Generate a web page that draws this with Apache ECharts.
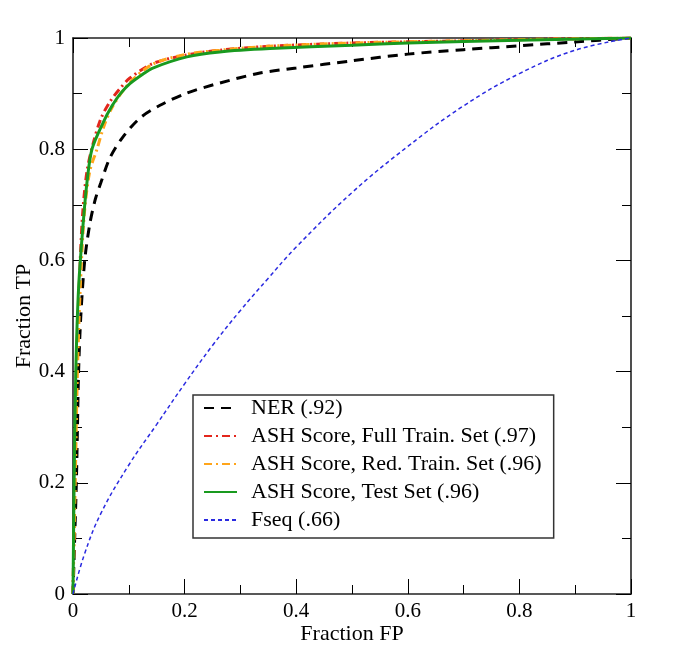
<!DOCTYPE html>
<html>
<head>
<meta charset="utf-8">
<script src="https://cdn.jsdelivr.net/npm/echarts@6/dist/echarts.min.js"></script>
<style>
html,body{margin:0;padding:0;background:#fff;}
#chart{width:685px;height:647px;}
</style>
</head>
<body>
<div id="chart"></div>
<script>
// Tick labels / axis settings
const axisTicks = [0, 0.2, 0.4, 0.6, 0.8, 1];
const seriesNames = [
  'NER (.92)',
  'ASH Score, Full Train. Set (.97)',
  'ASH Score, Red. Train. Set (.96)',
  'ASH Score, Test Set (.96)',
  'Fseq (.66)'
];

// NER
const nerFP = [0, 0.003, 0.006, 0.008, 0.010, 0.014, 0.021, 0.03, 0.04, 0.05, 0.066, 0.088, 0.12, 0.156, 0.204, 0.263, 0.335, 0.4, 0.5, 0.6, 0.7, 0.8, 0.9, 1];
const nerTP = [0, 0.1, 0.2, 0.3, 0.4, 0.5, 0.6, 0.665, 0.71, 0.74, 0.784, 0.82, 0.856, 0.879, 0.901, 0.919, 0.937, 0.946, 0.959, 0.971, 0.979, 0.986, 0.993, 1];

// ASH full train
const fullFP = [0, 0.003, 0.006, 0.011, 0.017, 0.025, 0.036, 0.05, 0.066, 0.085, 0.102, 0.143, 0.2, 0.263, 0.35, 0.5, 0.7, 0.85, 1];
const fullTP = [0, 0.2, 0.4, 0.55, 0.68, 0.76, 0.81, 0.855, 0.885, 0.91, 0.928, 0.954, 0.969, 0.978, 0.985, 0.991, 0.995, 0.998, 1];

// ASH reduced train
const redFP = [0, 0.004, 0.008, 0.013, 0.02, 0.03, 0.043, 0.055, 0.07, 0.1, 0.143, 0.2, 0.263, 0.35, 0.5, 0.7, 0.85, 1];
const redTP = [0, 0.2, 0.4, 0.55, 0.68, 0.76, 0.8, 0.84, 0.875, 0.918, 0.953, 0.97, 0.978, 0.985, 0.991, 0.995, 0.998, 1];

// ASH test set
const testFP = [0, 0.002, 0.005, 0.01, 0.018, 0.025, 0.034, 0.054, 0.07, 0.085, 0.102, 0.125, 0.143, 0.204, 0.263, 0.353, 0.5, 0.6, 0.8, 1];
const testTP = [0, 0.2, 0.4, 0.55, 0.664, 0.74, 0.8, 0.848, 0.878, 0.9, 0.918, 0.935, 0.946, 0.966, 0.975, 0.981, 0.987, 0.991, 0.996, 1];

// Fseq
const fseqFP = [0, 0.02, 0.05, 0.1, 0.15, 0.2, 0.25, 0.3, 0.35, 0.4, 0.5, 0.6, 0.7, 0.8, 0.9, 1];
const fseqTP = [0, 0.07, 0.145, 0.232, 0.305, 0.378, 0.447, 0.51, 0.568, 0.624, 0.722, 0.805, 0.878, 0.936, 0.978, 1];

function zip(a, b) { return a.map((v, i) => [v, b[i]]); }

const FONT = '"Liberation Serif", "DejaVu Serif", serif';
const chart = echarts.init(document.getElementById('chart'), null, {renderer: 'canvas'});

function fmt(v) { return String(axisTicks.find(t => Math.abs(t - v) < 1e-9) ?? v); }

function mkX(pos, showLabel) {
  return {
    type: 'value', min: 0, max: 1, interval: 0.2, position: pos,
    name: showLabel ? 'Fraction FP' : '', nameLocation: 'middle', nameGap: 29, nameMoveOverlap: false,
    nameTextStyle: {fontFamily: FONT, fontSize: 22, color: '#000'},
    axisLine: {show: true, onZero: false, lineStyle: {color: '#222', width: 1.6}},
    axisTick: {show: true, inside: true, length: 15, lineStyle: {color: '#000', width: 1}},
    minorTick: {show: true, splitNumber: 2, length: 9, lineStyle: {color: '#000', width: 1}},
    splitLine: {show: false}, minorSplitLine: {show: false},
    axisLabel: {show: showLabel, fontFamily: FONT, fontSize: 21, color: '#000', margin: 7, formatter: fmt}
  };
}
function mkY(pos, showLabel) {
  return {
    type: 'value', min: 0, max: 1, interval: 0.2, position: pos,
    name: showLabel ? 'Fraction TP' : '', nameLocation: 'middle', nameGap: 38, nameMoveOverlap: false,
    nameTextStyle: {fontFamily: FONT, fontSize: 22, color: '#000'},
    axisLine: {show: true, onZero: false, lineStyle: {color: '#222', width: 1.6}},
    axisTick: {show: true, inside: true, length: 15, lineStyle: {color: '#000', width: 1}},
    minorTick: {show: true, splitNumber: 2, length: 9, lineStyle: {color: '#000', width: 1}},
    splitLine: {show: false}, minorSplitLine: {show: false},
    axisLabel: {show: showLabel, fontFamily: FONT, fontSize: 21, color: '#000', margin: 8, formatter: fmt}
  };
}

function line(name, data, color, width, type, smooth) {
  return {
    name, type: 'line', data, symbol: 'none', smooth: smooth, xAxisIndex: 0, yAxisIndex: 0,
    lineStyle: {color, width, type}, itemStyle: {color}, animation: false
  };
}

chart.setOption({
  animation: false,
  backgroundColor: '#fff',
  grid: {left: 73, right: 54, top: 38, bottom: 53, containLabel: false, outerBoundsMode: 'none'},
  xAxis: [mkX('bottom', true), mkX('top', false)],
  yAxis: [mkY('left', true), mkY('right', false)],
  legend: {
    orient: 'vertical', left: 193, top: 395,
    data: seriesNames,
    itemWidth: 33, itemHeight: 22, itemGap: 6,
    padding: [2, 12, 7, 10],
    itemStyle: {opacity: 0},
    borderColor: '#333', borderWidth: 1.5, backgroundColor: '#fff',
    textStyle: {fontFamily: FONT, fontSize: 22, lineHeight: 22, color: '#000', padding: [0, 0, 0, 9]}
  },
  series: [
    line(seriesNames[0], zip(nerFP, nerTP), '#000000', 3, [10, 7], 0.3),
    line(seriesNames[1], zip(fullFP, fullTP), '#e3261c', 3, [8, 4, 2, 4], 0.3),
    line(seriesNames[2], zip(redFP, redTP), '#ffa51a', 3, [8, 4, 2, 4], 0.3),
    line(seriesNames[3], zip(testFP, testTP), '#199a1f', 3, 'solid', 0.3),
    line(seriesNames[4], zip(fseqFP, fseqTP), '#2a2ae0', 1.5, [4, 3], 0.4)
  ]
});
</script>
</body>
</html>
